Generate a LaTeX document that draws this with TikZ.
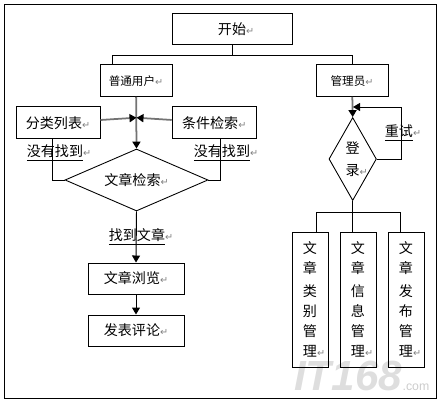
\documentclass[tikz,border=0pt]{standalone}
\usepackage{fontspec}
\usetikzlibrary{arrows.meta,shapes.geometric}
\setmainfont{Noto Sans CJK SC}
\newfontfamily\retfont{DejaVu Sans}
\newfontfamily\markfont{Liberation Sans}
\newcommand{\retm}{{\retfont\fontsize{5.5}{6}\selectfont\textcolor{gray}{↵}}}
\tikzset{
    flowbox/.style={draw, line width=0.55pt, inner sep=0pt, font=\fontsize{8}{11.4}\selectfont},
    smallbox/.style={flowbox, minimum width=1.44cm, minimum height=0.63cm, font=\fontsize{6.6}{9}\selectfont},
    tallbox/.style={flowbox, minimum width=0.72cm, minimum height=2.7cm, align=center},
    flowdiamond/.style={draw, line width=0.5pt, diamond, inner sep=0pt, font=\fontsize{8}{11.4}\selectfont},
    flowlabel/.style={inner sep=0pt, font=\fontsize{8}{11.4}\selectfont},
    flowline/.style={black, line width=0.55pt},
    grayline/.style={black!55, line width=1pt},
    flowarrow/.style={-{Triangle[black, length=0.14cm, width=0.16cm]}}
}
\begin{document}
\begin{tikzpicture}[x=0.02cm, y=-0.02cm]
        \useasboundingbox (0,0) rectangle (439,401);
        \draw[line width=0.55pt] (4.5,4) rectangle (436.5,398);
        % This is the mark in the corner.
            \node[inner sep=0pt, black!13, font=\markfont\bfseries\itshape\fontsize{24}{24}\selectfont] (logo) at (348,376) {IT168};
            \node[inner sep=0pt, black!20, anchor=base west, font=\markfont\fontsize{7}{7}\selectfont] (logocom) at (logo.base east) {.com};
        % Below nodes are the boxes.
            \node[flowbox, minimum width=2.4cm, minimum height=0.62cm] (start) at (232,28.8) {开始\rlap{\retm}};
            \node[smallbox] (user) at (136,80.7) {普通用户\retm};
            \node[smallbox] (admin) at (352,80.7) {管理员\retm};
            \node[flowbox, minimum width=1.68cm, minimum height=0.63cm] (catlist) at (58,122.7) {分类列表\retm};
            \node[flowbox, minimum width=1.68cm, minimum height=0.63cm] (search) at (214.2,122.7) {条件检索\retm};
            \node[flowdiamond, minimum width=2.86cm, minimum height=1.24cm, aspect=2.3] (find) at (136.5,180) {文章检索\retm};
            \node[flowbox, minimum width=1.92cm, minimum height=0.62cm] (browse) at (136,278.5) {文章浏览\retm};
            \node[flowbox, minimum width=1.92cm, minimum height=0.62cm] (comment) at (136,330.5) {发表评论\retm};
            \node[flowdiamond, minimum width=0.95cm, minimum height=1.66cm, aspect=0.57, align=center] (login) at (352.7,159) {\raisebox{-2.3pt}{登}\\[1pt]\raisebox{-2.3pt}{录\rlap{\retm}}};
            \node[tallbox] (mgrcat) at (310,299.5) {文\\章\\[2pt]类\\别\\管\\理\rlap{\retm}};
            \node[tallbox] (mgrinfo) at (358,299.5) {文\\章\\[2pt]信\\息\\管\\理\rlap{\retm}};
            \node[tallbox] (mgrpost) at (406,299.5) {文\\章\\[2pt]发\\布\\管\\理\rlap{\retm}};
        % These are the free ends of the lines.
            \coordinate (topbar) at (232,55);
            \coordinate (userin) at (112.7,65);
            \coordinate (catout) at (52,138.5);
            \coordinate (searchout) at (220,138.5);
            \coordinate (meet) at (136.5,117.7);
            \coordinate (retrytop) at (401,107);
            \coordinate (retrytip) at (353,107);
            \coordinate (lowbar) at (352.7,212);
            \coordinate (catin) at (316,232);
            \coordinate (postin) at (400,232);
        % Lines from the start box.
            \draw[flowline] (start) -- (topbar);
            \draw[flowline] (topbar) -| (userin);
            \draw[flowline] (topbar) -| (admin.north);
        % Left side of the chart.
            \draw[grayline, flowarrow] (user) -- (find.north);
            \draw[grayline, flowarrow] (catlist) -- (meet);
            \draw[grayline, flowarrow] (search) -- (meet);
            \draw[flowline] (catout) |- (find.west);
            \draw[flowline] (searchout) |- (find.east);
            \draw[flowline, flowarrow] (find.south) -- (browse.north);
            \draw[flowline, flowarrow] (browse) -- (comment);
        % Right side of the chart.
            \draw[grayline, flowarrow] (admin) -- (login.north);
            \draw[flowline] (login.east) -| (retrytop);
            \draw[flowline, flowarrow] (retrytop) -- (retrytip);
            \draw[flowline] (login.south) -- (mgrinfo.north -| login.south);
            \draw[flowline] (lowbar) -| (catin);
            \draw[flowline] (lowbar) -| (postin);
        % Below nodes are the labels.
            \node[flowlabel] (nofoundl) at (59,153) {\underline{没有找到}\retm};
            \node[flowlabel] (nofoundr) at (226,153) {\underline{没有找到}\retm};
            \node[flowlabel] (found) at (141,237) {\underline{找到文章}\retm};
            \node[flowlabel] (retry) at (403,133) {\underline{重试}\retm};
    \end{tikzpicture}
\end{document}
